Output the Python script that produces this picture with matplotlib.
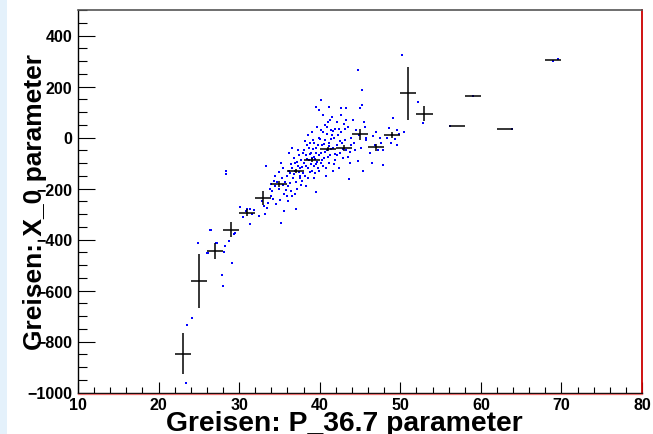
import matplotlib.pyplot as plt
from matplotlib.lines import Line2D
from matplotlib.patches import Rectangle
from matplotlib.ticker import MultipleLocator

plt.rcParams["font.family"] = ["Liberation Sans", "DejaVu Sans"]
plt.rcParams["font.weight"] = "bold"

# profile (bin centres, means, errors on mean)
prof_x = [23, 25, 27, 29, 31, 33, 35, 37, 39, 41, 43, 45, 47, 49, 51, 53, 57, 59, 63, 69]
prof_y = [-848, -563, -445, -362, -295, -237, -182, -132, -89, -44, -40, 12, -39, 10,
          173, 94, 44, 163, 35, 303]
prof_err = [80, 105, 30, 30, 13, 26, 13, 9, 9, 8, 11, 20, 12, 10, 105, 28, 0, 0, 0, 0]
bin_half = 1.0

# individual events
pts_x = [
    23.4, 23.5, 24.2, 24.9,
    26.1, 26.4, 27.2, 27.9, 26.0, 26.5, 27.1,
    28.0, 28.1, 28.3, 28.8, 29.1, 29.3, 29.5, 28.4, 28.4,
    30.1, 31.3, 31.3, 31.6, 30.8, 30.5, 31.0, 31.8,
    33.3, 33.6, 33.9, 33.8, 32.8, 33.5, 33.9, 33.2, 33.1, 32.5,
    34.1, 34.4, 34.7, 35.0, 35.3, 35.6, 35.9, 34.2, 34.6, 35.1, 35.4, 35.8, 34.9, 35.5,
    35.2, 34.5, 35.7, 35.95, 34.3, 35.6, 35.2,
    36.1, 36.3, 36.5, 36.7, 36.9, 37.1, 37.3, 37.5, 37.7, 37.9, 36.2, 36.4, 36.6, 36.8,
    37.0, 37.2, 37.4, 37.6, 37.8, 36.05, 36.35, 36.75, 37.15, 37.45, 37.85, 36.55, 37.25,
    37.65, 36.9, 37.1, 37.95, 36.4, 37.55, 36.15, 36.95,
    38.1, 38.3, 38.5, 38.7, 38.9, 39.1, 39.3, 39.5, 39.7, 39.9, 38.2, 38.4, 38.6, 38.8,
    39.0, 39.2, 39.4, 39.6, 39.8, 38.05, 38.25, 38.65, 38.95, 39.15, 39.45, 39.75, 38.45,
    38.85, 39.35, 39.85, 39.5, 39.6, 39.9, 38.35, 39.05, 39.55, 38.75, 39.25, 39.95, 38.15,
    39.65, 38.55, 39.35,
    40.1, 40.3, 40.5, 40.7, 40.9, 41.1, 41.3, 41.5, 41.7, 41.9, 40.2, 40.4, 40.6, 40.8,
    41.0, 41.2, 41.4, 41.6, 41.8, 40.05, 40.25, 40.45, 40.65, 40.85, 41.05, 41.25, 41.45,
    41.65, 41.85, 40.1, 41.2, 40.35, 40.75, 41.55, 40.55, 41.35, 41.75, 40.95, 41.15,
    40.15, 41.95,
    42.1, 42.3, 42.5, 42.7, 42.9, 43.1, 43.3, 43.5, 43.7, 43.9, 42.2, 42.4, 42.6, 42.8,
    43.0, 43.1, 42.7, 43.3, 43.6, 42.15, 42.55, 42.95, 43.45, 43.85, 42.35, 43.25, 43.75,
    44.2, 44.5, 44.8, 45.0, 45.2, 45.3, 44.7, 45.4, 45.6, 45.8, 44.4, 44.9, 45.5, 44.1,
    45.1, 45.7,
    46.6, 47.5, 47.8, 47.9, 46.3, 46.9, 47.2, 47.6, 46.5, 47.0,
    48.6, 49.6, 49.3, 49.6, 49.1, 48.3, 49.0, 48.8, 49.8,
    50.2, 50.4, 52.2, 52.8, 56.2, 59.0, 63.9, 69.0, 69.6,
]
pts_y = [
    -963, -736, -709, -414,
    -453, -364, -412, -540, -451, -362, -414,
    -581, -449, -425, -406, -492, -377, -373, -130, -143,
    -273, -280, -338, -300, -290, -310, -280, -285,
    -113, -255, -230, -200, -250, -275, -182, -300, -269, -308,
    -210, -190, -175, -200, -160, -220, -150, -240, -260, -245, -185, -205, -135, -120,
    -100, -150, -175, -230, -170, -289, -334,
    -190, -140, -120, -160, -100, -130, -110, -150, -90, -140, -60, -210, -230, -80,
    -175, -200, -70, -120, -170, -250, -180, -145, -95, -135, -115, -40, -50,
    -185, -220, -282, -60, -105, -160, -130, -130,
    -100, -70, -120, -90, -60, -80, -110, -40, -95, -70, -150, -30, -160, -20,
    -130, -10, -140, -60, -120, -50, -110, -40, -105, -45, -85, -30, -85,
    -135, -160, 0, -215, 121, 106, -190, 20, -105, -65, -75, -130, -15,
    40, 10, -20,
    -60, -30, -80, -10, -50, -20, -70, 10, -40, -90, 30, -110, 50, -120,
    60, -100, 30, -130, 0, -5, -90, 20, -55, 40, -75, 70, -45,
    25, -65, 149, 121, 90, -150, 80, -25, -5, -105, 15, -35,
    -100, 35,
    -30, 10, -60, 20, -80, -10, -50, 40, -100, 0, 60, -120, 90, -20,
    52, 32, 117, 117, -163, -70, -15, -45, -75, -30, 35, 70, -55,
    -20, 30, -91, 114, 129, 187, 265, -130, 43, 0, -50, 10, 60, 70,
    -40, -10,
    6, -1, -48, -107, -60, -30, -50, -20, -100, 20,
    39, 30, -7, -29, 78, 0, 10, -20, 15,
    325, 23, 139, 56, 44, 163, 35, 300, 306,
]

W, H = 653, 435
fig = plt.figure(figsize=(W / 100, H / 100), dpi=100)
fig.patches.append(Rectangle((0, 0), 7 / W, 1, transform=fig.transFigure,
                             facecolor="#e4f1fb", edgecolor="none"))

left, right, top, bottom = 78, 642, 11, 393.5
ax = fig.add_axes([left / W, 1 - bottom / H, (right - left) / W, (bottom - top) / H])

ax.scatter(pts_x, pts_y, s=1.6, marker="s", color="#0000ff", linewidths=0, zorder=2)
ax.errorbar(prof_x, prof_y, xerr=bin_half, yerr=prof_err, fmt="none",
            ecolor="black", elinewidth=1.1, capsize=0, zorder=3)

ax.set_xlim(10, 80)
ax.set_ylim(-1000, 500)
ax.xaxis.set_major_locator(MultipleLocator(10))
ax.xaxis.set_minor_locator(MultipleLocator(2))
ax.yaxis.set_major_locator(MultipleLocator(200))
ax.yaxis.set_minor_locator(MultipleLocator(50))

ax.tick_params(axis="both", which="both", direction="in", top=False, right=False,
               width=0.8, labelsize=11.5)
ax.tick_params(axis="y", which="major", length=12.3, pad=4)
ax.tick_params(axis="y", which="minor", length=6.5)
ax.tick_params(axis="x", which="major", length=7.8, pad=3)
ax.tick_params(axis="x", which="minor", length=4)
for lab in ax.get_xticklabels() + ax.get_yticklabels():
    lab.set_fontweight("bold")

for side in ["left", "bottom"]:
    ax.spines[side].set_linewidth(1.0)
    ax.spines[side].set_color("black")
ax.spines["top"].set_color("#555555")
ax.spines["top"].set_linewidth(1.2)
ax.spines["right"].set_color("#cc0000")
ax.spines["right"].set_linewidth(1.3)

# red line along the bottom edge
fig.add_artist(Line2D([left / W, right / W], [1 - (bottom + 1.2) / H] * 2,
                      color="#e87070", lw=0.9, transform=fig.transFigure))

fig.text(344 / W, 1 - 431 / H, "Greisen: P_36.7 parameter", ha="center",
         va="baseline", fontsize=20.3, fontweight="bold")
fig.text(42 / W, 1 - 201.5 / H, "Greisen: X_0 parameter", ha="center",
         va="baseline", rotation=90, rotation_mode="anchor", fontsize=19,
         fontweight="bold")

fig.savefig("out.png", dpi=100)
